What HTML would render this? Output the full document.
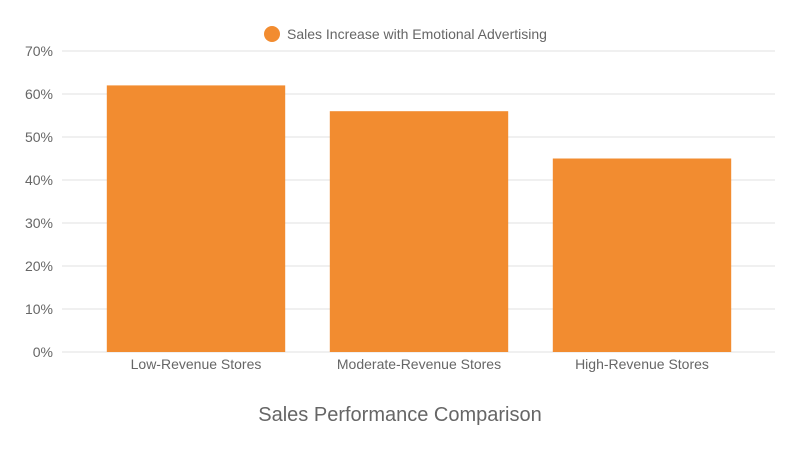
<!DOCTYPE html>
<html><head><meta charset="utf-8"><style>
body{margin:0;background:#fff;font-family:"Liberation Sans",sans-serif;}
</style></head><body>
<svg width="800" height="450" xmlns="http://www.w3.org/2000/svg">
<g>
<circle cx="272" cy="34" r="8" fill="#F28C30"/>
<text x="287" y="39" font-size="14" fill="#666">Sales Increase with Emotional Advertising</text>
</g>
<g id="grid"></g>
<g id="yticks"></g>
<g id="bars"></g>
<g id="xticks"></g>
<text x="400" y="421" font-size="20" fill="#666" text-anchor="middle">Sales Performance Comparison</text>
</svg>
<script>
const categories=["Low-Revenue Stores","Moderate-Revenue Stores","High-Revenue Stores"];
const values=[62,56,45];
const yTicks=[0,10,20,30,40,50,60,70];
const NS="http://www.w3.org/2000/svg";
const x0=84.5,x1=753.5,yBase=352,yTop=51,yMax=70;
const y=v=>yBase-(v/yMax)*(yBase-yTop);
const band=(x1-x0)/categories.length;
const xc=i=>x0+band*(i+0.5);
function mk(t,a,p){const e=document.createElementNS(NS,t);for(const k in a)e.setAttribute(k,a[k]);p.appendChild(e);return e;}
const grid=document.getElementById('grid'),yt=document.getElementById('yticks'),bars=document.getElementById('bars'),xt=document.getElementById('xticks');
yTicks.forEach(v=>{
 const l=mk('line',{x1:62,x2:775,y1:y(v),y2:y(v),stroke:'#e0e0e0','stroke-width':1},grid);
 
 
 const t=mk('text',{x:53,y:y(v)+5,'font-size':14,fill:'#666','text-anchor':'end'},yt);
 t.textContent=v+'%';
 
 
});
values.forEach((v,i)=>{
 const w=band*0.8;
 const r=mk('rect',{x:xc(i)-w/2,y:y(v),width:w,height:yBase-y(v),fill:'#F28C30'},bars);
 
 
 const t=mk('text',{x:xc(i),y:369,'font-size':14,fill:'#666','text-anchor':'middle'},xt);
 t.textContent=categories[i];
 
 
});
</script>
</body></html>
